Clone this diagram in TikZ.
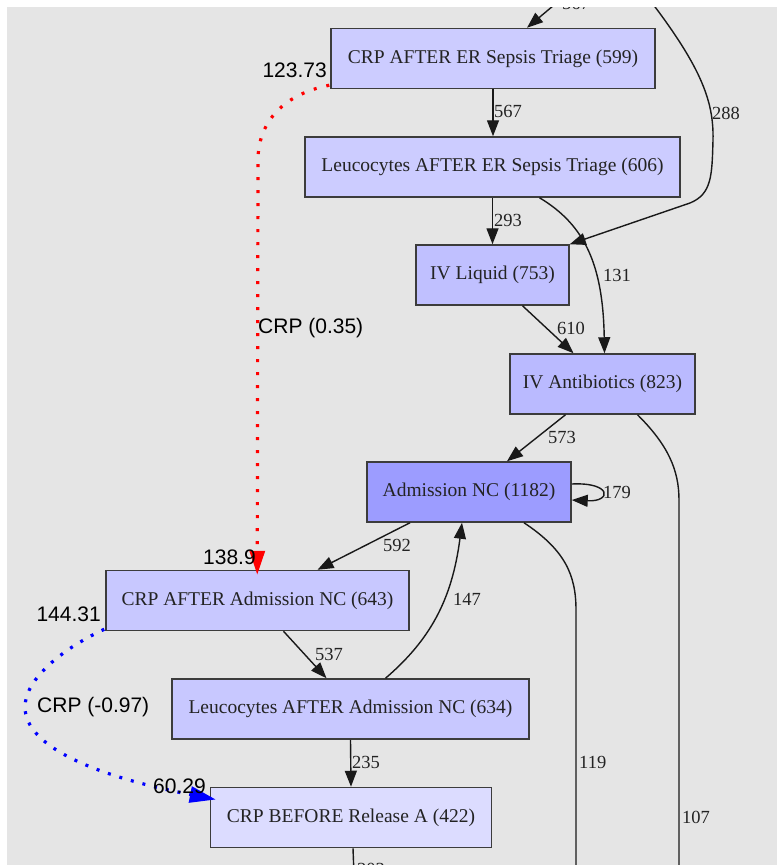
\documentclass[tikz,border=0pt]{standalone}
\usepackage{fontspec}
\setmainfont{Liberation Serif}
\newfontfamily\labsans{Liberation Sans}
\usetikzlibrary{arrows.meta,calc}
\definecolor{bgc}{RGB}{229,229,229}
\definecolor{bordc}{RGB}{60,60,60}
\definecolor{edgec}{RGB}{25,25,25}
\definecolor{txtc}{RGB}{35,35,35}
\definecolor{fA}{RGB}{204,204,255}
\definecolor{fB}{RGB}{192,192,255}
\definecolor{fC}{RGB}{186,186,255}
\definecolor{fD}{RGB}{156,156,255}
\definecolor{fE}{RGB}{200,200,255}
\definecolor{fF}{RGB}{220,220,255}
\begin{document}
\begin{tikzpicture}[x=1pt,y=-1pt,
  box/.style={draw=bordc, line width=1.5pt, inner sep=0pt, text=txtc,
    font=\fontsize{19.5}{22}\selectfont, minimum height=60pt},
  edge/.style={draw=edgec, line width=1.4pt, -{Triangle[length=16pt,width=12pt]}},
  plain/.style={draw=edgec, line width=1.4pt},
  elab/.style={text=txtc, font=\fontsize{18.5}{20}\selectfont, inner sep=0pt, anchor=west},
  slab/.style={text=black, font=\labsans\fontsize{21}{24}\selectfont, inner sep=0pt},
  reddot/.style={draw=red, line width=3.2pt, dash pattern=on 3pt off 10pt,
    -{Triangle[length=24pt,width=15pt]}},
  bluedot/.style={draw=blue, line width=3.2pt, dash pattern=on 3pt off 9pt,
    -{Triangle[length=26pt,width=16pt]}}]
\useasboundingbox (0,0) rectangle (777,865);
\fill[white] (0,0) rectangle (777,865);
\fill[bgc] (7,7) rectangle (777,865);
\begin{scope}
\clip (7,7) rectangle (777,865);
% nodes
\node[box, fill=fA, minimum width=324pt] (n599) at (493,58.5) {CRP AFTER ER Sepsis Triage (599)};
\node[box, fill=fA, minimum width=375pt] (n606) at (492.5,167) {Leucocytes AFTER ER Sepsis Triage (606)};
\node[box, fill=fB, minimum width=153pt] (nIVL) at (492.5,275) {IV Liquid (753)};
\node[box, fill=fC, minimum width=185pt] (nIVA) at (602.5,384) {IV Antibiotics (823)};
\node[box, fill=fD, minimum width=204pt] (nAdm) at (469,492) {Admission NC (1182)};
\node[box, fill=fE, minimum width=303pt] (nCRPa) at (257.5,600.5) {CRP AFTER Admission NC (643)};
\node[box, fill=fE, minimum width=357pt] (nLeua) at (350.5,709) {Leucocytes AFTER Admission NC (634)};
\node[box, fill=fF, minimum width=281pt] (nCRPb) at (351,817.5) {CRP BEFORE Release A (422)};
% free ends
\coordinate (ctop) at (566,-5);
\coordinate (c288) at (646,-5);
\coordinate (cb119) at (576,875);
\coordinate (cb107) at (679,875);
\coordinate (cbRel) at (354,875);
% edges
\draw[edge] (ctop) -- ($(n599.north)+(34,0)$);
\draw[edge] (c288) .. controls (700,65) and (714,100) .. (713,140)
   .. controls (712,175) and (712,194) .. (690,203) -- (nIVL.north east);
\draw[edge] (n599.south) -- (n599.south |- n606.north);
\draw[edge] (n606.south) -- (nIVL.north);
\draw[edge] ($(n606.south)+(47,0)$) .. controls (585,225) and (603,265) .. ($(nIVA.north)+(2,0)$);
\draw[edge] ($(nIVL.south)+(30,0)$) -- ($(nIVA.north)+(-29,0)$);
\draw[edge] ($(nIVA.south)+(-37,0)$) -- ($(nAdm.north)+(38,0)$);
\draw[edge] ($(nAdm.east)+(0,-8)$) .. controls (612,482) and (612,502) .. ($(nAdm.east)+(0,8)$);
\draw[edge] ($(nAdm.south)+(-59,0)$) -- ($(nCRPa.north)+(60,0)$);
\draw[edge] ($(nCRPa.south)+(26,0)$) -- ($(nLeua.north)+(-24,0)$);
\draw[edge] ($(nLeua.north)+(35,0)$) .. controls (430,640) and (452,600) .. ($(nAdm.south)+(-7,0)$);
\draw[edge] (nLeua.south) -- (nCRPb.north);
\draw[plain] ($(nAdm.south)+(55,0)$) .. controls (565,550) and (576,575) .. (576,610) -- (cb119);
\draw[plain] ($(nIVA.south)+(35,0)$) .. controls (668,445) and (679,470) .. (679,500) -- (cb107);
\draw[plain] ($(nCRPb.south)+(2,0)$) -- (cbRel);
% dotted relations
\draw[reddot] ($(n599.south west)+(-1,-4)$) .. controls (280,95) and (258,125) .. (258,160)
   -- ($(nCRPa.north west)+(152,5)$);
\draw[bluedot] ($(nCRPa.south west)+(-1,-2)$) .. controls (60,650) and (25,680) .. (25,707)
   .. controls (25,745) and (90,775) .. ($(nCRPb.west)+(6,-18)$);
% edge labels
\node[elab] at (562,3.5) {567};
\node[elab] at (494,111.5) {567};
\node[elab] at (712,113) {288};
\node[elab] at (494,220) {293};
\node[elab] at (603,275) {131};
\node[elab] at (557,328) {610};
\node[elab] at (548,437) {573};
\node[elab] at (603,492) {179};
\node[elab] at (383,545) {592};
\node[elab] at (315,654) {537};
\node[elab] at (453,599) {147};
\node[elab] at (352,762) {235};
\node[elab] at (579,762) {119};
\node[elab] at (682,817) {107};
\node[elab] at (357,869) {303};
% relation labels
\node[slab, anchor=east] at (327,70) {123.73};
\node[slab, anchor=west] at (258,328) {CRP (0.35)};
\node[slab, anchor=west] at (203,557) {138.9};
\node[slab, anchor=east] at (101,614) {144.31};
\node[slab, anchor=west] at (37,707) {CRP (-0.97)};
\node[slab, anchor=west] at (153,786) {60.29};
\end{scope}
\end{tikzpicture}
\end{document}
